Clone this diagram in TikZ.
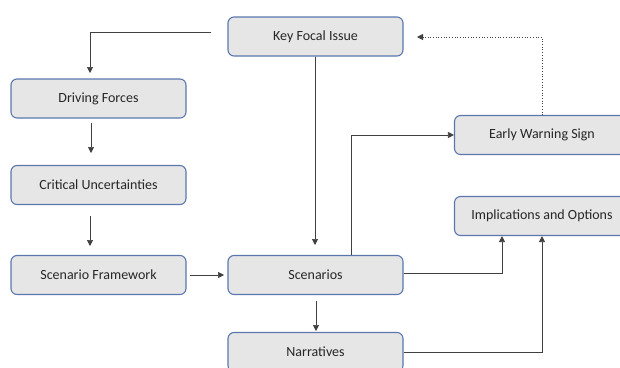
\documentclass[tikz,border=0pt]{standalone}
\usepackage{fontspec}
\setmainfont{Carlito}
\usetikzlibrary{arrows.meta}
\definecolor{boxfill}{HTML}{E6E6E6}
\definecolor{boxline}{HTML}{5B77AE}
\definecolor{linegray}{HTML}{404040}
\begin{document}
\begin{tikzpicture}[x=1pt,y=-1pt,
  box/.style={draw=boxline,line width=1.1pt,fill=boxfill,rounded corners=6pt,
    minimum width=175pt,minimum height=39pt,inner sep=0pt,font=\fontsize{14}{16}\selectfont,text=black!85},
  conn/.style={draw=linegray,line width=0.7pt,-{Triangle[length=6pt,width=6pt]}},
  dots/.style={conn,dotted,line width=0.8pt}]
\useasboundingbox (0,0) rectangle (620,367);
\fill[white] (0,0) rectangle (620,367);
\clip (0,0) rectangle (620,367);
\node[box] (kfi) at (315.5,36.5) {Key Focal Issue};
\node[box] (df) at (98.5,98.5) {Driving Forces};
\node[box] (cu) at (98.5,185) {Critical Uncertainties};
\node[box] (sf) at (98.5,275) {Scenario Framework};
\node[box] (sc) at (315.5,275) {Scenarios};
\node[box] (na) at (315.5,352) {Narratives};
\node[box] (ews) at (542,135) {Early Warning Sign};
\node[box] (imp) at (542,216) {Implications and Options};
% connectors
\coordinate (kfiout) at (211,32);
\coordinate (dfin) at (90,73);
\draw[conn] (kfiout) -| (dfin);
\coordinate (dfout) at (91,123);
\coordinate (cuin) at (91,153);
\draw[conn] (dfout) -- (cuin);
\coordinate (cuout) at (90,216);
\coordinate (sfin) at (90,246);
\draw[conn] (cuout) -- (sfin);
\coordinate (sfout) at (190,275);
\coordinate (scin) at (224,275);
\draw[conn] (sfout) -- (scin);
\coordinate (kfiscin) at (315,245);
\draw[conn] (kfi.south -| kfiscin) -- (kfiscin);
\coordinate (scout) at (316,301);
\coordinate (nain) at (316,331);
\draw[conn] (scout) -- (nain);
\draw[conn] (sc.north -| 351,0) |- (ews.west);
\coordinate (kfiin) at (417,37);
\draw[dots] (ews.north -| 542,0) |- (kfiin);
\draw[conn] (sc.east |- 0,273) -| (imp.south -| 502,0);
\draw[conn] (na.east) -| (imp.south -| 542,0);
\end{tikzpicture}
\end{document}
